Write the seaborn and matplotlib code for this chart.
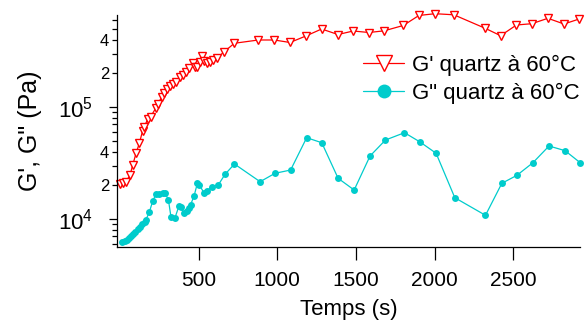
import numpy as np
import pandas as pd
import matplotlib
matplotlib.use("Agg")
import matplotlib.pyplot as plt
import matplotlib.ticker as mticker
import seaborn as sns

# ---------------------------------------------------------
# Data
# ---------------------------------------------------------
t_gp = [0, 21, 38, 64, 81, 102, 123, 144, 154, 176, 195, 227, 243, 265, 280,
        301, 318, 335, 354, 381, 399, 420, 441, 462, 477, 488, 509, 521, 534,
        551, 572, 593, 615, 663, 727, 880, 981, 1081, 1182, 1282, 1386, 1483,
        1583, 1680, 1801, 1901, 2003, 2123, 2322, 2420, 2521, 2619, 2721, 2823,
        2920]
g_prime = [20540, 20830, 21530, 24700, 30340, 38610, 47400, 61430, 65890,
           78140, 81940, 97370, 106400, 123600, 132500, 144700, 154000, 159500,
           167200, 186400, 194200, 204200, 221600, 245600, 229100, 226200,
           250600, 285300, 259000, 248600, 253700, 262800, 272200, 311700,
           370600, 396500, 396500, 376700, 430500, 497000, 443700, 477000,
           462500, 478900, 534200, 656600, 680700, 665700, 504400, 433200,
           539600, 554400, 619400, 550800, 610600]

t_gs = [15, 30, 45, 60, 72, 85, 98, 112, 127, 142, 157, 165, 187, 208, 229,
        250, 271, 286, 308, 324, 350, 375, 386, 407, 424, 440, 449, 471, 492,
        504, 534, 551, 583, 626, 668, 728, 891, 986, 1085, 1187, 1283, 1387,
        1489, 1590, 1688, 1809, 1908, 2010, 2129, 2324, 2428, 2524, 2626, 2728,
        2830, 2926]
g_second = [6270, 6320, 6494, 6730, 7050, 7340, 7650, 8090, 8540, 8970, 9460,
            9860, 11550, 14480, 16630, 16720, 16960, 17170, 14790, 10490,
            10280, 13060, 12880, 11240, 11790, 12470, 13420, 16040, 20830,
            20130, 17170, 17780, 19430, 20240, 25060, 30970, 21530, 25590,
            27370, 53200, 47980, 23080, 18150, 36520, 50720, 58960, 48700,
            38630, 15490, 10790, 20830, 24550, 31830, 44860, 40740, 31830]

x_ticks = [500, 1000, 1500, 2000, 2500]
label_gp = "G' quartz à 60°C"
label_gs = 'G" quartz à 60°C'

df_gp = pd.DataFrame({"t": t_gp, "G": g_prime})
df_gs = pd.DataFrame({"t": t_gs, "G": g_second})

# ---------------------------------------------------------
# Style
# ---------------------------------------------------------
sns.set_style("ticks")
plt.rcParams["font.family"] = ["Liberation Sans", "DejaVu Sans"]
plt.rcParams["mathtext.fontset"] = "custom"
plt.rcParams["mathtext.rm"] = "Liberation Sans"
plt.rcParams["mathtext.it"] = "Liberation Sans"
plt.rcParams["text.color"] = "black"
plt.rcParams["axes.labelcolor"] = "black"

red = "#ff0000"
cyan = "#00cccc"

fig = plt.figure(figsize=(5.85, 3.29), dpi=100)
ax = fig.add_axes([117 / 585, 1 - 247 / 329, (580 - 117) / 585, (247 - 15) / 329])

sns.lineplot(data=df_gp, x="t", y="G", ax=ax, color=red, lw=0.9,
             marker="v", markersize=5.5, markerfacecolor="white",
             markeredgecolor=red, markeredgewidth=1.0,
             estimator=None, sort=False, label=label_gp)
sns.lineplot(data=df_gs, x="t", y="G", ax=ax, color=cyan, lw=0.9,
             marker="o", markersize=5, markerfacecolor=cyan,
             markeredgecolor=cyan, markeredgewidth=0,
             estimator=None, sort=False, label=label_gs)
for line in ax.lines:
    line.set_clip_on(False)

ax.set_yscale("log")
ax.set_xlim(-19, 2925)
ax.set_ylim(5623, 662800)

ax.set_xticks(x_ticks)
ax.set_xticklabels([str(v) for v in x_ticks])
ax.yaxis.set_major_locator(mticker.LogLocator(base=10, numticks=10))
ax.yaxis.set_major_formatter(
    mticker.FuncFormatter(lambda v, p: r"$\mathregular{10^{%d}}$" % round(np.log10(v))))
ax.yaxis.set_minor_locator(mticker.LogLocator(base=10, subs=np.arange(2, 10), numticks=20))


def minor_fmt(v, p):
    m = v / 10 ** np.floor(np.log10(v) + 1e-9)
    r = int(round(m))
    return str(r) if r in (2, 4) else ""


ax.yaxis.set_minor_formatter(mticker.FuncFormatter(minor_fmt))

ax.tick_params(axis="x", which="major", direction="out", length=9, width=0.9,
               labelsize=15, pad=8, color="black", labelcolor="black")
ax.tick_params(axis="x", which="minor", length=0)
ax.tick_params(axis="y", which="major", direction="out", length=5.5, width=0.9,
               labelsize=16, pad=12, color="black", labelcolor="black")
ax.tick_params(axis="y", which="minor", direction="out", length=3.5, width=0.9,
               labelsize=12, pad=2, color="black", labelcolor="black")

for s in ["top", "right"]:
    ax.spines[s].set_visible(False)
for s in ["left", "bottom"]:
    ax.spines[s].set_linewidth(0.9)
    ax.spines[s].set_color("black")

ax.set_xlabel("Temps (s)", fontsize=16)
ax.xaxis.set_label_coords(0.5, (247 - 299) / 232)
ax.set_ylabel('G\', G" (Pa)', fontsize=18)
ax.yaxis.set_label_coords((42 - 117) / 463, 0.5)

leg = ax.legend(loc="upper left", bbox_to_anchor=(363 / 585, 1 - 55 / 329),
                bbox_transform=fig.transFigure, frameon=False, fontsize=16,
                markerscale=2.0, handlelength=1.85, handletextpad=0.36,
                borderpad=0, borderaxespad=0, labelspacing=0.3)

fig.savefig("out.png", dpi=100)
